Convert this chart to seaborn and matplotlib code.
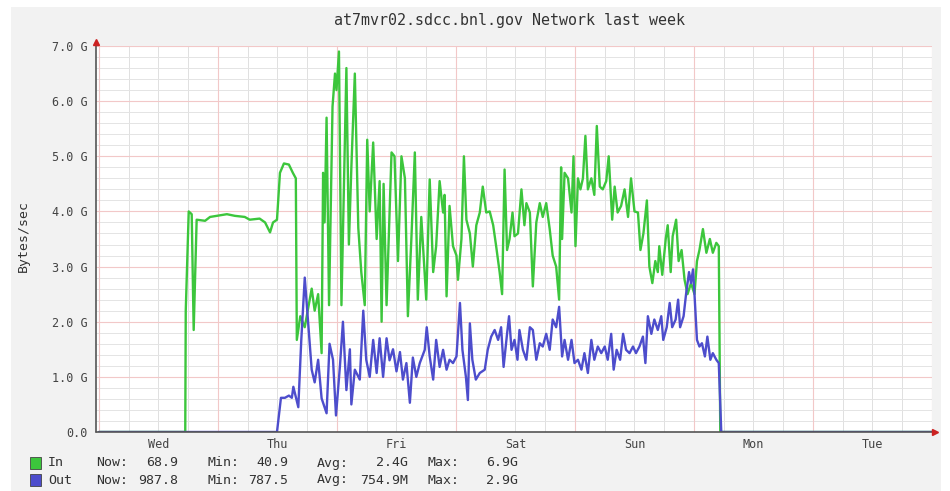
import numpy as np
import pandas as pd
import matplotlib
matplotlib.use("Agg")
import matplotlib.pyplot as plt
import seaborn as sns
from matplotlib.patches import Rectangle

sns.set_theme(style="white")
plt.rcParams['font.family'] = ['DejaVu Sans Mono', 'DejaVu Sans']

# ---------------- data ----------------
title = "at7mvr02.sdcc.bnl.gov Network last week"
y_label = "Bytes/sec"
day_labels = ["Wed", "Thu", "Fri", "Sat", "Sun", "Mon", "Tue"]
y_tick_values = [0, 1, 2, 3, 4, 5, 6, 7]
y_tick_labels = ["0.0", "1.0 G", "2.0 G", "3.0 G", "4.0 G", "5.0 G", "6.0 G", "7.0 G"]

# hours since Wed 00:00, values in GBytes/sec
in_hours = [0.0, 17.4, 17.5, 18.1, 18.7, 19.1, 19.7, 21.4, 22.4, 24.4, 25.8, 27.4, 29.4,
            30.4, 32.4, 33.5, 34.5, 35.1, 35.9, 36.5, 37.3, 38.3, 39.1, 39.7, 39.9,
            40.6, 41.5, 42.9, 43.5, 44.2, 44.9, 45.2, 45.5, 45.9, 46.4, 47.1, 47.6,
            47.9, 48.4, 48.9, 49.9, 50.4, 50.9, 51.6, 52.3, 52.9, 53.6, 54.1, 54.6,
            55.3, 56.0, 56.6, 57.0, 57.4, 58.0, 59.0, 59.6, 60.3, 61.0, 61.7, 62.3,
            63.0, 63.7, 64.3, 65.0, 66.0, 66.7, 67.4, 68.0, 68.7, 69.4, 69.7, 70.1,
            70.7, 71.4, 72.1, 72.4, 73.1, 73.6, 74.1, 74.8, 75.4, 76.1, 76.8, 77.4,
            78.1, 78.8, 79.5, 80.1, 80.8, 81.3, 81.8, 82.3, 82.8, 83.4, 83.8, 84.5,
            85.2, 85.8, 86.2, 86.9, 87.5, 88.2, 88.9, 89.5, 90.2, 90.9, 91.5, 92.2,
            92.8, 93.2, 93.4, 93.9, 94.6, 95.3, 95.7, 96.1, 96.6, 97.1, 97.6, 98.1,
            98.6, 99.3, 99.9, 100.4, 101.0, 101.6, 102.3, 102.8, 103.5, 104.0, 104.6,
            105.3, 106.0, 106.7, 107.3, 108.0, 108.7, 109.2, 109.8, 110.5, 111.0,
            111.6, 112.2, 112.7, 113.0, 113.6, 114.3, 114.7, 115.3, 115.7, 116.4,
            116.9, 117.5, 118.1, 118.7, 119.4, 120.1, 120.6, 121.1, 121.8, 122.5,
            123.2, 123.8, 124.5, 125.0, 125.3, 168.0]
in_gbps = [0.0, 0.0, 2.2, 4.0, 3.95, 1.85, 3.85, 3.83, 3.9, 3.93, 3.95, 3.92, 3.9,
           3.85, 3.87, 3.8, 3.62, 3.8, 3.85, 4.7, 4.87, 4.85, 4.7, 4.6, 1.67,
           2.1, 1.9, 2.6, 2.2, 2.5, 1.43, 4.7, 3.8, 5.7, 2.3, 5.9, 6.5,
           6.2, 6.9, 2.3, 6.6, 3.4, 4.8, 6.5, 3.7, 2.9, 2.3, 5.3, 4.0,
           5.25, 3.5, 4.55, 2.0, 4.5, 2.3, 5.07, 5.0, 3.1, 5.0, 4.6, 2.1,
           3.5, 5.07, 2.4, 3.9, 2.4, 4.58, 2.9, 3.37, 4.55, 3.98, 4.3, 2.46,
           4.1, 3.37, 3.2, 2.76, 3.5, 5.0, 3.85, 3.6, 3.0, 3.75, 3.98, 4.45,
           3.98, 4.0, 3.75, 3.37, 2.9, 2.5, 4.76, 3.3, 3.5, 3.98, 3.55, 3.6,
           4.4, 3.75, 4.15, 3.98, 2.64, 3.8, 4.15, 3.9, 4.15, 3.68, 3.2, 3.0,
           2.4, 4.8, 3.5, 4.7, 4.6, 3.98, 5.0, 3.37, 4.6, 4.4, 4.6, 5.37,
           4.4, 4.6, 4.3, 5.55, 4.45, 4.4, 4.55, 5.0, 3.85, 4.45, 3.98,
           4.1, 4.4, 3.9, 4.6, 4.0, 3.98, 3.3, 3.6, 4.2, 3.0,
           2.7, 3.1, 2.9, 3.37, 2.85, 3.5, 3.75, 2.9, 3.55, 3.85,
           3.1, 3.3, 2.76, 2.5, 2.7, 2.5, 3.1, 3.3, 3.68, 3.25,
           3.5, 3.25, 3.43, 3.37, 0.0, 0.0]

out_hours = [0.0, 35.9, 36.7, 37.5, 38.3, 38.9, 39.2, 40.2, 40.8, 41.5, 42.2, 42.9,
             43.5, 44.2, 44.9, 45.9, 46.5, 47.2, 47.8, 48.6, 49.2, 49.9, 50.6, 50.9,
             51.6, 52.6, 53.3, 53.9, 54.6, 55.3, 56.0, 56.6, 57.3, 58.0, 58.6, 59.3,
             60.0, 60.7, 61.3, 62.0, 62.7, 63.3, 64.0, 64.7, 65.7, 66.1, 66.7, 67.4,
             68.0, 68.7, 69.4, 70.1, 70.7, 71.4, 72.1, 72.8, 73.3, 74.0, 74.4, 74.8,
             75.3, 76.0, 76.8, 77.8, 78.4, 79.1, 79.8, 80.5, 81.1, 81.6, 82.3, 82.7,
             83.2, 83.8, 84.4, 84.8, 85.5, 86.2, 86.9, 87.5, 88.2, 88.9, 89.5, 90.2,
             90.9, 91.5, 92.2, 92.8, 93.2, 93.4, 93.9, 94.6, 95.3, 95.9, 96.6, 97.3,
             97.9, 98.6, 99.3, 99.9, 100.6, 101.3, 102.0, 102.6, 103.3, 103.8, 104.4,
             105.1, 105.7, 106.3, 107.0, 107.7, 108.3, 109.0, 109.7, 110.2, 110.7,
             111.4, 112.0, 112.7, 113.4, 113.8, 114.5, 115.1, 115.6, 116.3, 116.8,
             117.2, 117.9, 118.4, 119.0, 119.4, 119.8, 120.1, 120.6, 121.1, 121.6,
             122.2, 122.7, 123.3, 123.8, 124.5, 125.0, 125.5, 168.0]
out_gbps = [0.0, 0.0, 0.62, 0.62, 0.66, 0.62, 0.82, 0.45, 1.67, 2.8, 1.97, 1.13,
            0.9, 1.31, 0.61, 0.34, 1.6, 1.31, 0.3, 1.2, 2.0, 0.76, 1.5, 0.5,
            1.13, 0.95, 2.2, 1.31, 1.0, 1.67, 1.07, 1.7, 1.0, 1.7, 1.3, 1.5,
            1.1, 1.45, 0.95, 1.25, 0.53, 1.35, 1.0, 1.25, 1.49, 1.9, 1.37, 0.95,
            1.67, 1.18, 1.49, 1.13, 1.31, 1.25, 1.37, 2.34, 1.49, 1.0, 0.58, 1.97,
            1.31, 0.95, 1.07, 1.13, 1.49, 1.73, 1.85, 1.67, 1.9, 1.18, 1.78, 2.1,
            1.49, 1.67, 1.31, 1.85, 1.49, 1.31, 1.9, 1.85, 1.31, 1.61, 1.55, 1.78,
            1.49, 2.04, 1.9, 2.27, 1.67, 1.37, 1.67, 1.31, 1.67, 1.25, 1.31, 1.13,
            1.43, 1.07, 1.67, 1.31, 1.55, 1.43, 1.55, 1.31, 1.78, 1.13, 1.49,
            1.31, 1.78, 1.49, 1.43, 1.55, 1.43, 1.55, 1.73, 1.25, 2.1,
            1.78, 2.04, 1.85, 2.1, 1.67, 1.9, 2.34, 1.9, 2.04, 2.4,
            1.9, 2.1, 2.5, 2.9, 2.7, 2.95, 2.5, 1.67, 1.55, 1.61,
            1.37, 1.73, 1.31, 1.43, 1.31, 1.25, 0.0, 0.0]

legend_names = ["In", "Out"]
legend_now = ["68.9", "987.8"]
legend_min = ["40.9", "787.5"]
legend_avg = ["2.4G", "754.9M"]
legend_max = ["6.9G", "2.9G"]

# ---------------- style ----------------
GREEN = "#3cc63c"
BLUE = "#4d4dcc"
TXT = "#333333"
W, H = 950, 491

fig = plt.figure(figsize=(W / 100, H / 100), dpi=100)
fig.patch.set_facecolor("white")
fig.add_artist(Rectangle((11 / W, 0), 930 / W, (H - 7) / H, transform=fig.transFigure,
                         facecolor="#f2f2f2", edgecolor="none", zorder=-10))

ax = fig.add_axes([96 / W, (H - 432) / H, 836 / W, (432 - 46) / H])
ax.set_facecolor("white")
x0, x1 = -0.6, 168.0
ax.set_xlim(x0, x1)
ax.set_ylim(0, 7.0)

# grid
for v in np.arange(0, 168.1, 6):
    if v % 24 == 0:
        continue
    ax.axvline(v, color="#e0e0e0", lw=0.7, zorder=0)
for v in np.arange(0, 7.01, 0.2):
    if abs(v - round(v)) < 1e-6:
        continue
    ax.axhline(v, color="#e4e4e4", lw=0.7, zorder=0)
for v in range(0, 169, 24):
    ax.axvline(v, color="#f2c8c8", lw=0.8, zorder=0.5)
for v in range(1, 8):
    ax.axhline(v, color="#f2c8c8", lw=0.8, zorder=0.5)

sns.lineplot(x=in_hours, y=in_gbps, ax=ax, color=GREEN, lw=1.7, estimator=None, sort=False, zorder=3)
sns.lineplot(x=out_hours, y=out_gbps, ax=ax, color=BLUE, lw=1.7, estimator=None, sort=False, zorder=4)

for s in ax.spines.values():
    s.set_visible(False)
ax.set_xticks([12 + 24 * i for i in range(len(day_labels))])
ax.set_xticklabels(day_labels)
ax.set_yticks(y_tick_values)
ax.set_yticklabels(y_tick_labels)
ax.tick_params(axis="both", length=0, labelsize=8.5, colors="#444444")
ax.tick_params(axis="x", pad=4)
ax.tick_params(axis="y", pad=6)
ax.set_xlabel("")
ax.set_ylabel("")

# axis lines with red arrows
ax.plot([0, 1.004], [0, 0], transform=ax.transAxes, clip_on=False, color="#555555", lw=1.2, zorder=5)
ax.plot([1.004], [0], marker=">", color="#cc2222", markersize=4, transform=ax.transAxes, clip_on=False, zorder=6)
ax.plot([0, 0], [0, 1.01], transform=ax.transAxes, clip_on=False, color="#555555", lw=1.2, zorder=5)
ax.plot([0], [1.01], marker="^", color="#cc2222", markersize=4, transform=ax.transAxes, clip_on=False, zorder=6)

# title and y label
fig.text(510 / W, 1 - 20 / H, title, ha="center", va="center", fontsize=10.8, color=TXT)
fig.text(23 / W, 1 - 236 / H, y_label, ha="center", va="center", rotation=90, fontsize=9.5, color=TXT)

# legend
colors = [GREEN, BLUE]
rows_y = [463, 480]
for i in range(2):
    yy = 1 - rows_y[i] / H
    fig.add_artist(Rectangle((30 / W, 1 - (rows_y[i] + 6) / H), 11 / W, 12 / H, transform=fig.transFigure,
                             facecolor=colors[i], edgecolor="#444444", lw=0.6))
    fig.text(48 / W, yy, legend_names[i], ha="left", va="center", fontsize=9.5, color=TXT)
    for lab, val, lx, rx in [("Now:", legend_now[i], 96, 178), ("Min:", legend_min[i], 207, 288),
                             ("Avg:", legend_avg[i], 317, 408), ("Max:", legend_max[i], 427, 518)]:
        fig.text(lx / W, yy, lab, ha="left", va="center", fontsize=9.5, color=TXT)
        fig.text(rx / W, yy, val, ha="right", va="center", fontsize=9.5, color=TXT)

fig.savefig("out.png", dpi=100, facecolor=fig.get_facecolor())
